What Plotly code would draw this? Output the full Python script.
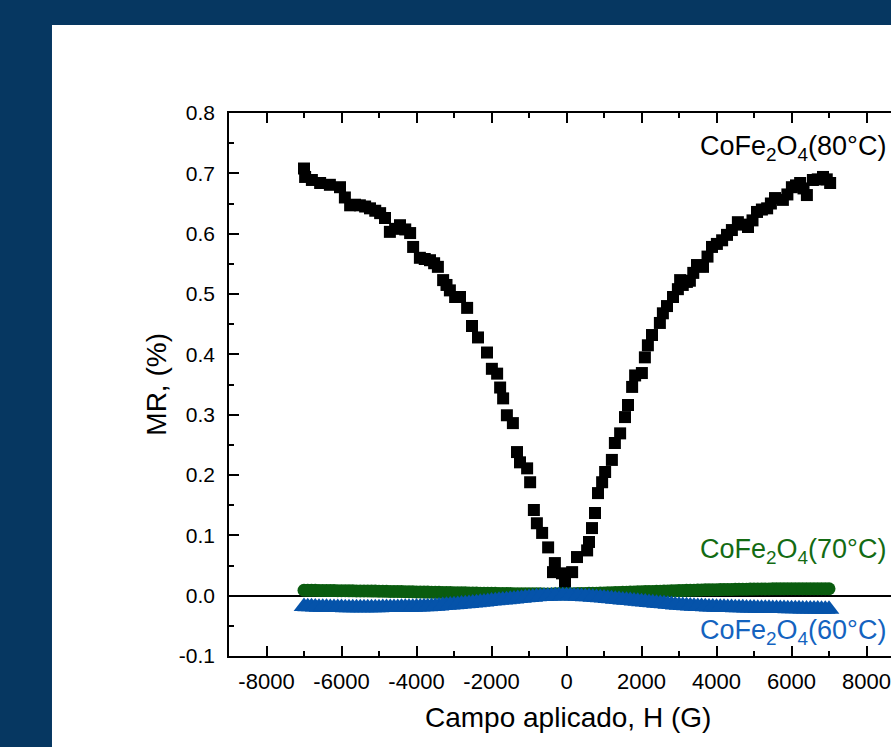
import plotly.graph_objects as go

# ---------------- data ----------------
# CoFe2O4 (80°C): field H (G) and MR (%)
h80 = [-7000, -6970, -6790, -6570, -6310, -6040, -5910, -5770, -5640, -5510,
       -5370, -5240, -5100, -4970, -4840, -4710, -4570, -4440, -4300, -4170,
       -4090, -3910, -3780, -3640, -3530, -3430, -3290, -3200, -3110, -2970,
       -2840, -2650, -2520, -2360, -2120, -1990, -1850, -1770,
       -1690, -1590, -1430, -1320, -1240, -1050, -970, -870, -790, -650,
       -490, -360, -310, -120, -40,
       150, 280, 550, 600, 680, 760, 840, 950, 1030, 1210,
       1290, 1430, 1560, 1640, 1750, 1830, 2010, 2090, 2170, 2280,
       2490, 2570, 2680, 2840, 2970, 3030, 3100, 3210, 3290, 3380, 3480, 3560, 3640,
       3760, 3880, 4010, 4150, 4280, 4410, 4570, 4700, 4840, 4960, 5080, 5210, 5350,
       5450, 5560, 5770, 5890, 6010, 6120, 6230, 6320, 6410, 6570, 6700, 6840, 6940, 7030]
mr80 = [0.708, 0.694, 0.689, 0.684, 0.681, 0.677, 0.660, 0.647, 0.648, 0.647,
        0.645, 0.642, 0.638, 0.634, 0.626, 0.603, 0.608, 0.614, 0.607, 0.601,
        0.578, 0.560, 0.558, 0.556, 0.551, 0.545, 0.523, 0.515, 0.506, 0.495,
        0.495, 0.477, 0.447, 0.428, 0.403, 0.376, 0.368, 0.345,
        0.327, 0.299, 0.286, 0.238, 0.221, 0.211, 0.188, 0.142, 0.120, 0.104,
        0.080, 0.039, 0.054, 0.037, 0.021,
        0.039, 0.064, 0.075, 0.089, 0.112, 0.137, 0.170, 0.188, 0.205, 0.225,
        0.253, 0.269, 0.296, 0.316, 0.346, 0.365, 0.369, 0.395, 0.415, 0.432,
        0.452, 0.468, 0.480, 0.495, 0.508, 0.523, 0.515, 0.520, 0.522, 0.535, 0.548, 0.546, 0.545,
        0.562, 0.578, 0.583, 0.589, 0.598, 0.606, 0.619, 0.615, 0.611, 0.622, 0.636, 0.640, 0.642,
        0.650, 0.659, 0.656, 0.665, 0.677, 0.680, 0.684, 0.675, 0.664, 0.689, 0.690, 0.694, 0.690, 0.684]

# 70°C and 60°C samples: forward sweep (G) and return sweep (G)
h_fwd = [-7000, -6800, -6600, -6400, -6200, -6000, -5800, -5600, -5400, -5200,
         -5000, -4800, -4600, -4400, -4200, -4000, -3800, -3600, -3400, -3200,
         -3000, -2800, -2600, -2400, -2200, -2000, -1800, -1600, -1400, -1200,
         -1000, -800, -600, -400, -200, 0, 200, 400, 600, 800,
         1000, 1200, 1400, 1600, 1800, 2000, 2200, 2400, 2600, 2800,
         3000, 3200, 3400, 3600, 3800, 4000, 4200, 4400, 4600, 4800,
         5000, 5200, 5400, 5600, 5800, 6000, 6200, 6400, 6600, 6800, 7000]
h_ret = [-6900, -6700, -6500, -6300, -6100, -5900, -5700, -5500, -5300, -5100,
         -4900, -4700, -4500, -4300, -4100, -3900, -3700, -3500, -3300, -3100,
         -2900, -2700, -2500, -2300, -2100, -1900, -1700, -1500, -1300, -1100,
         -900, -700, -500, -300, -100, 100, 300, 500, 700, 900,
         1100, 1300, 1500, 1700, 1900, 2100, 2300, 2500, 2700, 2900,
         3100, 3300, 3500, 3700, 3900, 4100, 4300, 4500, 4700, 4900,
         5100, 5300, 5500, 5700, 5900, 6100, 6300, 6500, 6700, 6900]

mr70_fwd = [0.0090, 0.0088, 0.0087, 0.0085, 0.0084, 0.0082, 0.0081, 0.0079, 0.0078, 0.0076,
            0.0075, 0.0072, 0.0070, 0.0067, 0.0065, 0.0062, 0.0060, 0.0057, 0.0055, 0.0052,
            0.0050, 0.0048, 0.0045, 0.0043, 0.0040, 0.0038, 0.0037, 0.0035, 0.0033, 0.0032,
            0.0030, 0.0030, 0.0029, 0.0029, 0.0030, 0.0030, 0.0032, 0.0035, 0.0038, 0.0042,
            0.0045, 0.0049, 0.0053, 0.0057, 0.0061, 0.0065, 0.0069, 0.0073, 0.0077, 0.0081,
            0.0085, 0.0088, 0.0091, 0.0094, 0.0097, 0.0100, 0.0102, 0.0104, 0.0106, 0.0108,
            0.0110, 0.0111, 0.0112, 0.0113, 0.0114, 0.0115, 0.0115, 0.0115, 0.0115, 0.0115, 0.0115]
mr70_ret = [0.0089, 0.0088, 0.0086, 0.0085, 0.0083, 0.0082, 0.0080, 0.0079, 0.0077, 0.0076,
            0.0074, 0.0071, 0.0069, 0.0066, 0.0064, 0.0061, 0.0059, 0.0056, 0.0054, 0.0051,
            0.0049, 0.0047, 0.0044, 0.0042, 0.0039, 0.0038, 0.0036, 0.0034, 0.0033, 0.0031,
            0.0030, 0.0030, 0.0029, 0.0030, 0.0030, 0.0031, 0.0034, 0.0037, 0.0040, 0.0044,
            0.0047, 0.0051, 0.0055, 0.0059, 0.0063, 0.0067, 0.0071, 0.0075, 0.0079, 0.0083,
            0.0087, 0.0090, 0.0093, 0.0096, 0.0099, 0.0101, 0.0103, 0.0105, 0.0107, 0.0109,
            0.0111, 0.0112, 0.0113, 0.0114, 0.0115, 0.0115, 0.0115, 0.0115, 0.0115, 0.0115]

mr60_fwd = [-0.0180, -0.0185, -0.0190, -0.0193, -0.0196, -0.0198, -0.0199, -0.0200, -0.0200, -0.0200,
            -0.0199, -0.0198, -0.0196, -0.0194, -0.0192, -0.0189, -0.0185, -0.0178, -0.0170, -0.0160,
            -0.0150, -0.0140, -0.0128, -0.0116, -0.0103, -0.0090, -0.0078, -0.0066, -0.0054, -0.0042,
            -0.0030, -0.0020, -0.0011, -0.0005, -0.0001, 0.0000, -0.0005, -0.0012, -0.0020, -0.0030,
            -0.0040, -0.0052, -0.0064, -0.0076, -0.0088, -0.0100, -0.0112, -0.0124, -0.0136, -0.0148,
            -0.0160, -0.0168, -0.0175, -0.0181, -0.0186, -0.0190, -0.0194, -0.0197, -0.0200, -0.0203,
            -0.0205, -0.0208, -0.0210, -0.0212, -0.0214, -0.0216, -0.0218, -0.0220, -0.0222, -0.0224, -0.0225]
mr60_ret = [-0.0183, -0.0188, -0.0192, -0.0195, -0.0197, -0.0199, -0.0200, -0.0200, -0.0200, -0.0200,
            -0.0198, -0.0197, -0.0195, -0.0193, -0.0191, -0.0187, -0.0182, -0.0174, -0.0165, -0.0155,
            -0.0145, -0.0134, -0.0122, -0.0110, -0.0097, -0.0084, -0.0072, -0.0060, -0.0048, -0.0036,
            -0.0025, -0.0015, -0.0008, -0.0003, 0.0000, -0.0002, -0.0008, -0.0016, -0.0025, -0.0035,
            -0.0046, -0.0058, -0.0070, -0.0082, -0.0094, -0.0106, -0.0118, -0.0130, -0.0142, -0.0154,
            -0.0164, -0.0172, -0.0178, -0.0184, -0.0188, -0.0192, -0.0196, -0.0199, -0.0202, -0.0204,
            -0.0207, -0.0209, -0.0211, -0.0213, -0.0215, -0.0217, -0.0219, -0.0221, -0.0223, -0.0225]

x_tickvals = [-8000, -6000, -4000, -2000, 0, 2000, 4000, 6000, 8000]
x_ticktext = ["-8000", "-6000", "-4000", "-2000", "0", "2000", "4000", "6000", "8000"]
y_tickvals = [-0.1, 0.0, 0.1, 0.2, 0.3, 0.4, 0.5, 0.6, 0.7, 0.8]
y_ticktext = ["-0.1", "0.0", "0.1", "0.2", "0.3", "0.4", "0.5", "0.6", "0.7", "0.8"]

label80 = "CoFe<sub>2</sub>O<sub>4</sub>(80°C)"
label70 = "CoFe<sub>2</sub>O<sub>4</sub>(70°C)"
label60 = "CoFe<sub>2</sub>O<sub>4</sub>(60°C)"
x_title = "Campo aplicado, H (G)"
y_title = "MR, (%)"

# ---------------- style ----------------
FONT = "Liberation Sans, Arial, sans-serif"
BG = "#063761"
GREEN = "#0a5c0f"
BLUE = "#0553aa"
GREEN_TXT = "#136b13"
BLUE_TXT = "#1463bf"

fig = go.Figure()
fig.add_trace(go.Scatter(x=h80, y=mr80, mode="markers",
                         marker=dict(symbol="square", size=12, color="black",
                                     line=dict(width=0)),
                         showlegend=False))
fig.add_trace(go.Scatter(x=h_fwd + h_ret, y=mr70_fwd + mr70_ret, mode="markers",
                         marker=dict(symbol="circle", size=13, color=GREEN,
                                     line=dict(width=0)),
                         showlegend=False))
fig.add_trace(go.Scatter(x=h_fwd + h_ret, y=mr60_fwd + mr60_ret, mode="markers",
                         marker=dict(symbol="triangle-up", size=18, color=BLUE,
                                     line=dict(width=0)),
                         showlegend=False))

axis_common = dict(
    showline=True, linecolor="black", linewidth=1.5,
    ticks="inside", ticklen=10, tickwidth=1.5, tickcolor="black",
    showgrid=False,
)

fig.update_xaxes(
    range=[-9000, 8653], tickmode="array", tickvals=x_tickvals, ticktext=x_ticktext,
    mirror="ticks", zeroline=False, ticklabelstandoff=5,
    tickfont=dict(family=FONT, size=22, color="black"),
    minor=dict(ticks="inside", ticklen=5, tickwidth=1.5, tickcolor="black",
               dtick=1000, tick0=0, showgrid=False),
    **axis_common)
fig.update_yaxes(
    range=[-0.1, 0.8], tickmode="array", tickvals=y_tickvals, ticktext=y_ticktext,
    mirror=False, zeroline=True, zerolinecolor="black", zerolinewidth=1.5,
    ticklabelstandoff=8,
    tickfont=dict(family=FONT, size=21, color="black"),
    minor=dict(ticks="inside", ticklen=5, tickwidth=1.5, tickcolor="black",
               dtick=0.05, tick0=0, showgrid=False),
    **axis_common)

fig.add_shape(type="rect", xref="paper", yref="paper",
              x0=-0.2674, x1=1.05, y0=-0.2, y1=1.162,
              fillcolor="white", line=dict(width=0), layer="below")

fig.add_annotation(text=x_title, xref="paper", yref="paper", x=0.512, y=-0.114,
                   xanchor="center", yanchor="middle", showarrow=False,
                   font=dict(family=FONT, size=28, color="black"))
fig.add_annotation(text=y_title, xref="paper", yref="paper", x=-0.11, y=0.5,
                   xanchor="center", yanchor="middle", showarrow=False, textangle=-90,
                   font=dict(family=FONT, size=28, color="black"))
fig.add_annotation(text=label80, xref="paper", yref="paper", x=0.996, y=0.935,
                   xanchor="right", yanchor="middle", showarrow=False,
                   font=dict(family=FONT, size=27, color="black"))
fig.add_annotation(text=label70, xref="paper", yref="paper", x=0.996, y=0.194,
                   xanchor="right", yanchor="middle", showarrow=False,
                   font=dict(family=FONT, size=27, color=GREEN_TXT))
fig.add_annotation(text=label60, xref="paper", yref="paper", x=0.996, y=0.045,
                   xanchor="right", yanchor="middle", showarrow=False,
                   font=dict(family=FONT, size=27, color=BLUE_TXT))

fig.update_layout(
    width=891, height=747,
    margin=dict(l=229, r=0, t=113, b=91, pad=0),
    paper_bgcolor=BG, plot_bgcolor="white",
    font=dict(family=FONT, color="black"),
    showlegend=False,
)

fig.write_html("out.html", include_plotlyjs=True, full_html=True,
               config={"displayModeBar": False})
